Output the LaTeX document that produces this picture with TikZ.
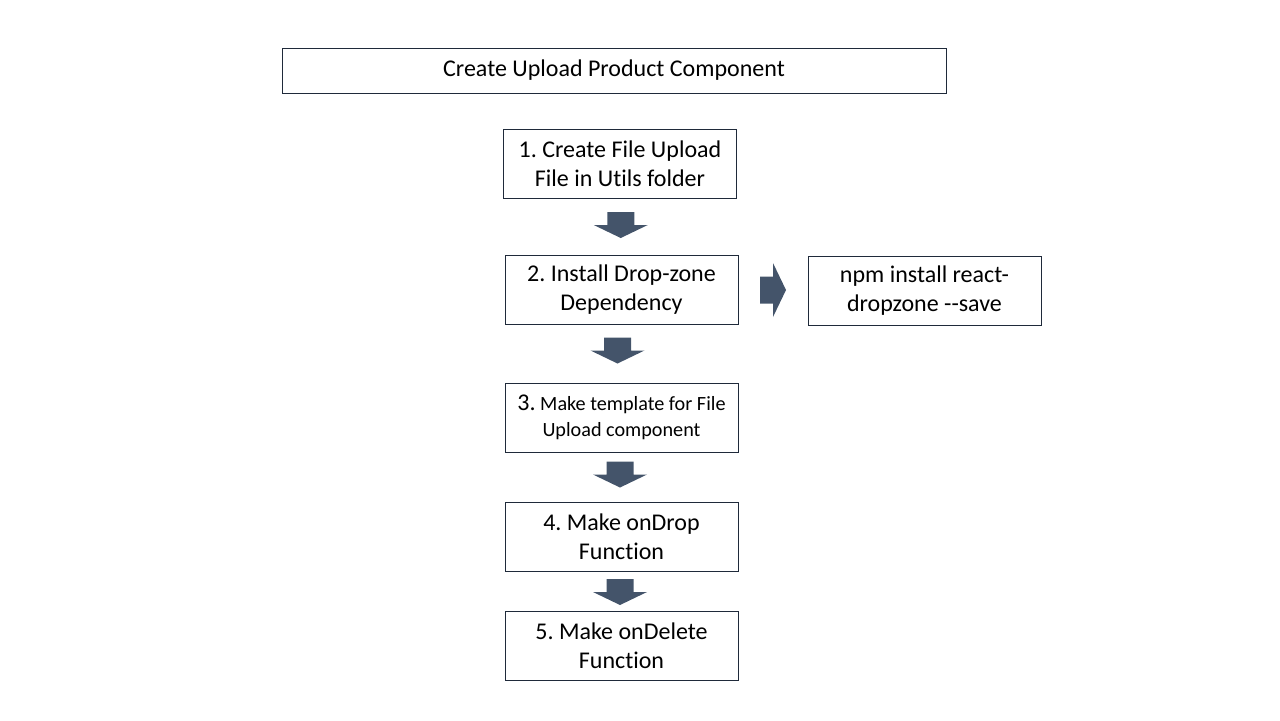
\documentclass[tikz,border=0pt]{standalone}
\usepackage{fontspec}
\setmainfont{Carlito}[Ligatures={TeX,NoCommon}]
\frenchspacing
\usetikzlibrary{positioning,calc}
\definecolor{arrowblue}{HTML}{44546A}
\definecolor{boxline}{HTML}{1F2A3A}
\tikzstyle{stepbox}=[rectangle,draw=boxline,line width=0.45pt,minimum width=116.5pt,
minimum height=34.5pt,inner sep=0pt,align=center,font=\fontsize{12}{14.5}\selectfont]
\tikzstyle{titlebox}=[stepbox,minimum width=332pt,minimum height=22.5pt,
font=\fontsize{12}{14}\selectfont]
\tikzset{blockarrow/.pic={
  \fill[arrowblue] (-13.5,-13) -- (13.5,-13) -- (13.5,0) -- (27,0) -- (0,13)
    -- (-27,0) -- (-13.5,0) -- cycle;}}

\begin{document}
\begin{tikzpicture}[x=0.5pt,y=-0.5pt]
            \useasboundingbox (0,0) rectangle (1280,720);

            % TITLE PART

            \node[titlebox] (t0) at (614,70.5) {Create Upload Product Component};

            % STEPS PART

            \node[stepbox] (s1) at (620,163.5) {1. Create File Upload\\File in Utils folder};
            \node[stepbox] (s2) at (621.5,289.5) {2. Install Drop-zone\\Dependency};
            \node[stepbox] (n1) at (924.5,290.5) {npm install react-\\dropzone -{}-save};
            \node[stepbox,font=\fontsize{10.1}{13}\selectfont] (s3) at (621.5,417.5)
                {{\fontsize{12}{13}\selectfont 3.} Make template for File\\Upload component};
            \node[stepbox] (s4) at (621.5,536.5) {4. Make onDrop\\Function};
            \node[stepbox] (s5) at (621.5,645.5) {5. Make onDelete\\Function};

            % ARROWS

            \pic at ($(s1.south)!0.5!(s2.north)+(0,-1.5)$) {blockarrow};
            \pic at ($(s2.south)!0.5!(s3.north)+(-4,-3)$) {blockarrow};
            \pic at ($(s3.south)!0.5!(s4.north)+(-1.5,-2.5)$) {blockarrow};
            \pic at ($(s4.south)!0.5!(s5.north)+(-1.5,1)$) {blockarrow};
            \pic[rotate=90] at ($(s2.east)!0.5!(n1.west)$) {blockarrow};

        \end{tikzpicture}
\end{document}
